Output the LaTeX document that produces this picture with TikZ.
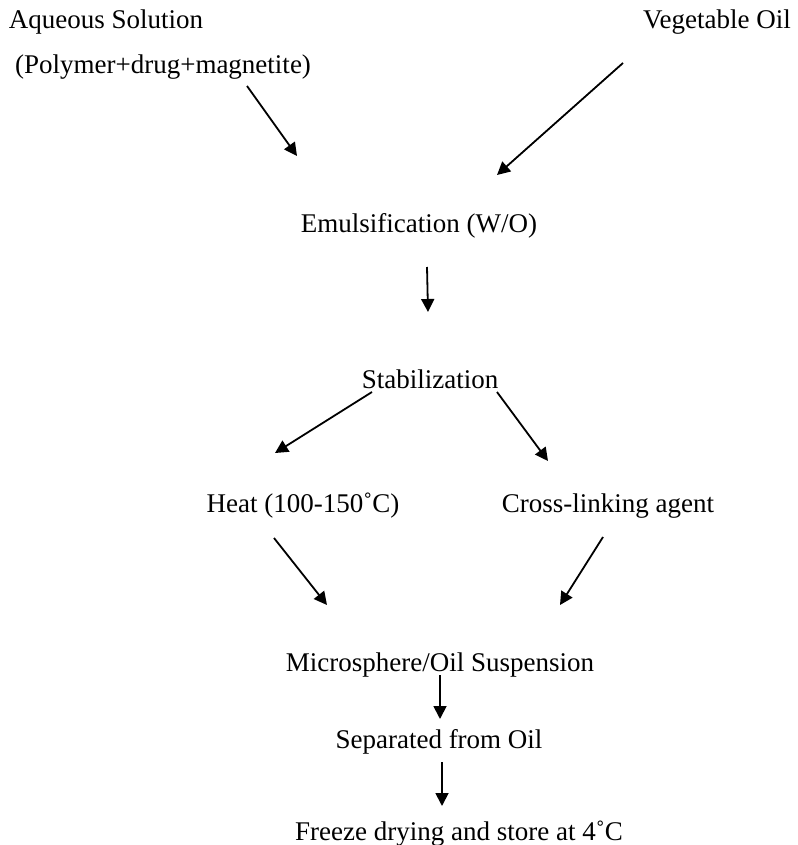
\documentclass[tikz,border=0pt]{standalone}
\usepackage{fontspec}
\setmainfont{Liberation Serif}
\usetikzlibrary{arrows.meta}
\begin{document}
\begin{tikzpicture}[x=1pt,y=-1pt,
  lbl/.style={anchor=base,inner sep=0pt,font=\fontsize{27}{32}\selectfont},
  flow/.style={line width=1.8pt,-{Triangle[length=13pt,width=13pt]}}]
\useasboundingbox (0,0) rectangle (797,845);
\node[lbl] (aq) at (106,29) {Aqueous Solution};
\node[lbl] (poly) at (163,74) {(Polymer+drug+magnetite)};
\node[lbl] (veg) at (717,29) {Vegetable Oil};
\node[lbl] (emu) at (419,232) {Emulsification (W/O)};
\node[lbl] (stab) at (430,388) {Stabilization};
\node[lbl] (heat) at (303,512) {Heat (100-150˚C)};
\node[lbl] (cross) at (608,512) {Cross-linking agent};
\node[lbl] (micro) at (440,671) {Microsphere/Oil Suspension};
\node[lbl] (sep) at (439,748) {Separated from Oil};
\node[lbl] (frz) at (459,840) {Freeze drying and store at 4˚C};
\coordinate (a1s) at (247,86);  \coordinate (a1e) at (297,156);
\coordinate (a2s) at (623,63);  \coordinate (a2e) at (497,175);
\coordinate (a3s) at (427,267); \coordinate (a3e) at (428,312);
\coordinate (a4s) at (372,392); \coordinate (a4e) at (275,453);
\coordinate (a5s) at (497,392); \coordinate (a5e) at (548,461);
\coordinate (a6s) at (274,538); \coordinate (a6e) at (327,605);
\coordinate (a7s) at (603,537); \coordinate (a7e) at (560,605);
\coordinate (a8s) at (440,675); \coordinate (a8e) at (440,719);
\coordinate (a9s) at (442,762); \coordinate (a9e) at (442,806);
\foreach \i in {1,...,9} \draw[flow] (a\i s) -- (a\i e);
\end{tikzpicture}
\end{document}
